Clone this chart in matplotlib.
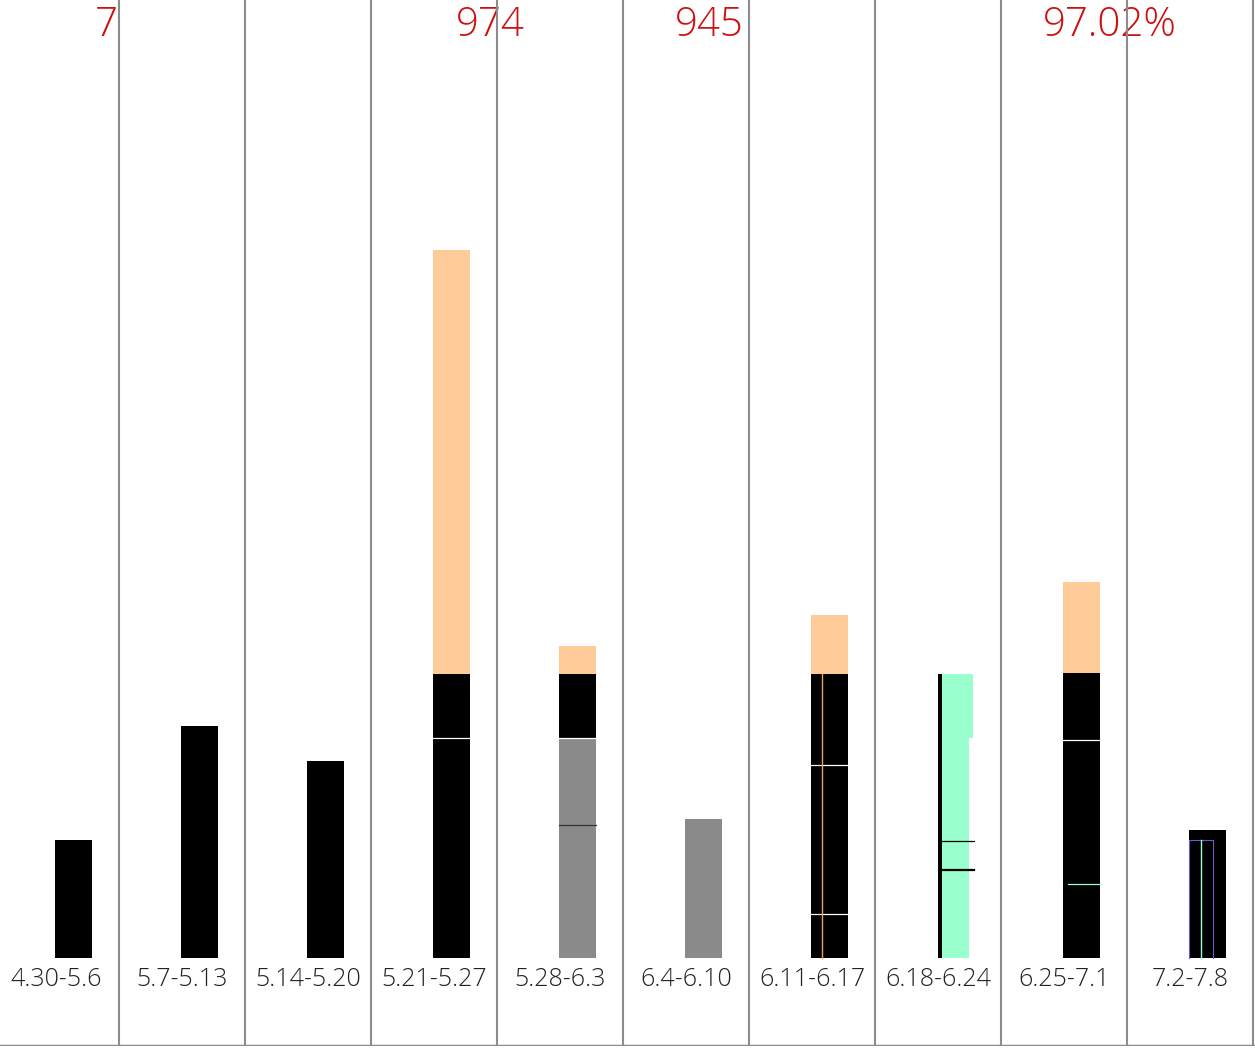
import matplotlib
matplotlib.use("Agg")
import matplotlib.pyplot as plt
import numpy as np

categories = ['4.30-5.6', '5.7-5.13', '5.14-5.20', '5.21-5.27', '5.28-6.3',
              '6.4-6.10', '6.11-6.17', '6.18-6.24', '6.25-7.1', '7.2-7.8']

# stacked layers (bottom to top)
black_base = [118, 232, 197, 220, 0, 0, 44, 0, 74, 128]
gray_low = [0, 0, 0, 0, 133, 139, 0, 0, 0, 0]
gray_high = [0, 0, 0, 0, 87, 0, 0, 0, 0, 0]
black_mid = [0, 0, 0, 64, 64, 0, 149, 0, 144, 0]
black_top = [0, 0, 0, 0, 0, 0, 91, 0, 67, 0]
peach_top = [0, 0, 0, 424, 28, 0, 59, 0, 91, 0]

# odd series in 6.18-6.24
narrow_black = [0, 0, 0, 0, 0, 0, 0, 284, 0, 0]
mint_low = [0, 0, 0, 0, 0, 0, 0, 220, 0, 0]
mint_high = [0, 0, 0, 0, 0, 0, 0, 64, 0, 0]
mint_marks = [117, 88]
inner_7_2 = [0, 0, 0, 0, 0, 0, 0, 0, 0, 118]

top_labels = ['7', '974', '945', '97.02%']
top_label_x = [0.49, 3.444, 5.183, 8.365]
top_label_ha = ['right', 'center', 'center', 'center']

FONT = ['Open Sans', 'DejaVu Sans']
plt.rcParams['font.family'] = FONT

fig = plt.figure(figsize=(12.55, 10.48), dpi=100)
ax = fig.add_axes([0, 2 / 1048, 1, 1046 / 1048])
ax.set_xlim(-0.444, 9.516)
ax.set_ylim(-88, 958)
ax.axis('off')

x = np.arange(len(categories))
xb = x - 0.01
W = 0.294
BLACK = '#000000'
GRAY = '#8a8a8a'
PEACH = '#ffcc99'
MINT = '#99ffcc'

layers = [(black_base, BLACK), (gray_low, GRAY), (gray_high, GRAY),
          (black_mid, BLACK), (black_top, BLACK), (peach_top, PEACH)]
bottom = np.zeros(len(categories))
bounds = []
for vals, col in layers:
    v = np.array(vals, dtype=float)
    ax.bar(xb, v, width=W, bottom=bottom, align='edge', color=col, linewidth=0)
    bottom = bottom + v
    bounds.append(bottom.copy())

# separators between stacked segments
for i in range(len(categories)):
    prev = None
    for k, (vals, col) in enumerate(layers):
        if vals[i] == 0:
            continue
        if prev is not None and col != PEACH:
            y = bounds[k][i] - vals[i]
            sepcol = '#333333' if col == GRAY else 'white'
            x0 = xb[i]
            if i == 8 and prev == 0:
                sepcol = MINT
                x0 = xb[i] + 0.04
            ax.plot([x0, xb[i] + W], [y, y], color=sepcol, lw=0.9, zorder=3)
        prev = k

# 6.11-6.17 orange inner line
ax.plot([6.08, 6.08], [0, bounds[4][6]], color='#e8a060', lw=1.0, zorder=3)

# 6.18-6.24 odd bar
ax.bar(7.0, narrow_black[7], width=0.032, align='edge', color=BLACK, linewidth=0)
ax.bar(7.031, mint_low[7], width=0.214, align='edge', color=MINT, linewidth=0)
ax.bar(7.031, mint_high[7], width=0.245, bottom=mint_low[7], align='edge', color=MINT, linewidth=0)
for m, lw in zip(mint_marks, [0.9, 1.6]):
    ax.plot([7.031, 7.285], [m, m], color=BLACK, lw=lw, zorder=3)

# 7.2-7.8 inner marks
ax.plot([8.995, 8.995, 9.185, 9.185], [0, inner_7_2[9], inner_7_2[9], 0], color='#7755cc', lw=0.8, zorder=3)
ax.plot([9.085, 9.085], [0, inner_7_2[9]], color=MINT, lw=1.0, zorder=3)

# vertical separators
for b in np.arange(0.5, len(categories), 1.0):
    ax.axvline(b, color='#8c8c8c', lw=1.5, zorder=4)
ax.axhline(-88, color='#8c8c8c', lw=2.5, zorder=4)

for i, c in enumerate(categories):
    ax.text(x[i], -21, c, ha='center', va='center', fontsize=18,
            color='#222222', fontweight='light')

for t, tx, ha in zip(top_labels, top_label_x, top_label_ha):
    ax.text(tx, 933, t, ha=ha, va='center', fontsize=29, color='#cc1111',
            fontweight='light')

fig.savefig('out.png', dpi=100)
